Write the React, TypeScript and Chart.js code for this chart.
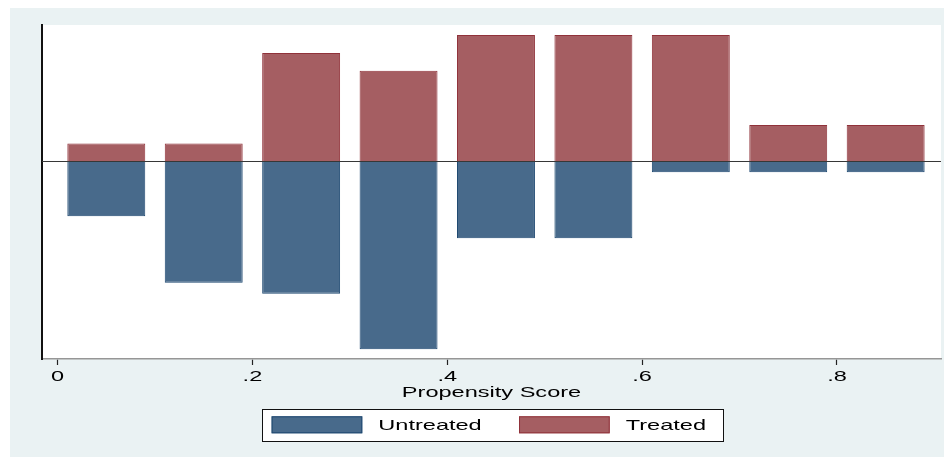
import React, { useEffect, useRef } from 'react';
import { Chart, registerables } from 'chart.js';

Chart.register(...registerables);

// ---- data ----
const binCenters = [0.05, 0.15, 0.25, 0.35, 0.45, 0.55, 0.65, 0.75, 0.85];
const untreated = [-0.08, -0.177, -0.193, -0.274, -0.112, -0.112, -0.016, -0.016, -0.016];
const treated = [0.026, 0.026, 0.158, 0.132, 0.184, 0.184, 0.184, 0.053, 0.053];
const xTickValues = [0, 0.2, 0.4, 0.6, 0.8];
const xTickLabels = ['0', '.2', '.4', '.6', '.8'];
const seriesNames = ['Untreated', 'Treated'];
const xTitle = 'Propensity Score';

// ---- styles ----
const BG = 'rgb(234,242,243)';
const BLUE_FILL = 'rgb(72,106,139)';
const BLUE_LINE = 'rgb(30,72,112)';
const RED_FILL = 'rgb(165,94,98)';
const RED_LINE = 'rgb(144,50,58)';
const FONT = '"Liberation Sans", Arial, sans-serif';
const SX = 1.57; // horizontal text stretch seen in the reference

const bgPlugin = {
  id: 'bgPlugin',
  beforeDraw(chart: any) {
    const { ctx, width, height, chartArea } = chart;
    ctx.save();
    ctx.fillStyle = BG;
    ctx.fillRect(0, 0, width, height);
    ctx.fillStyle = '#ffffff';
    ctx.fillRect(chartArea.left, chartArea.top, chartArea.right - chartArea.left, chartArea.bottom - chartArea.top);
    ctx.restore();
  },
};

const zeroLinePlugin = {
  id: 'zeroLinePlugin',
  afterDatasetsDraw(chart: any) {
    const { ctx, chartArea } = chart;
    const y = Math.round(chart.scales.y.getPixelForValue(0)) + 0.5;
    ctx.save();
    ctx.strokeStyle = 'rgb(55,55,55)';
    ctx.lineWidth = 1.2;
    ctx.beginPath();
    ctx.moveTo(chartArea.left, y);
    ctx.lineTo(chartArea.right, y);
    ctx.stroke();
    ctx.restore();
  },
};

const legendPlugin = {
  id: 'boxLegend',
  afterDraw(chart: any) {
    const { ctx, chartArea } = chart;
    const cx = (chartArea.left + chartArea.right) / 2 + 1.3;
    const top = chartArea.bottom + 50.3;
    const h = 32;
    const padL = 9.3, swW = 90.7, swH = 17, gapText = 16, gapItem = 37.3, padR = 17.3;
    ctx.save();
    ctx.font = `15px ${FONT}`;
    const items = chart.data.datasets.map((d: any) => ({
      text: d.label,
      fill: d.backgroundColor,
      line: d.borderColor,
      w: ctx.measureText(d.label).width,
    }));
    let total = padL + padR;
    items.forEach((it: any, i: number) => {
      total += swW + gapText + it.w + (i < items.length - 1 ? gapItem : 0);
    });
    const left = cx - total / 2;
    ctx.fillStyle = '#ffffff';
    ctx.fillRect(left, top, total, h);
    ctx.strokeStyle = '#111';
    ctx.lineWidth = 1;
    ctx.strokeRect(Math.round(left) + 0.5, Math.round(top) + 0.5, Math.round(total), h);
    let x = left + padL;
    const midY = top + h / 2;
    items.forEach((it: any) => {
      ctx.fillStyle = it.fill;
      ctx.fillRect(x, midY - swH / 2 - 0.5, swW, swH);
      ctx.strokeStyle = it.line;
      ctx.strokeRect(x + 0.5, midY - swH / 2, swW - 1, swH - 1);
      x += swW + gapText;
      ctx.fillStyle = '#000';
      ctx.textAlign = 'left';
      ctx.textBaseline = 'middle';
      ctx.fillText(it.text, x, midY + 1);
      x += it.w + gapItem;
    });
    ctx.restore();
  },
};

function stretchText(ctx: any) {
  if (ctx.__stretched) return;
  ctx.__stretched = true;
  const origFill = ctx.fillText.bind(ctx);
  const origMeasure = ctx.measureText.bind(ctx);
  ctx.fillText = (text: string, x: number, y: number, maxWidth?: number) => {
    ctx.save();
    ctx.translate(x, y);
    ctx.scale(SX, 1);
    if (maxWidth !== undefined) origFill(text, 0, 0, maxWidth / SX);
    else origFill(text, 0, 0);
    ctx.restore();
  };
  ctx.measureText = (text: string) => {
    const m = origMeasure(text);
    return {
      width: m.width * SX,
      actualBoundingBoxAscent: m.actualBoundingBoxAscent,
      actualBoundingBoxDescent: m.actualBoundingBoxDescent,
      actualBoundingBoxLeft: m.actualBoundingBoxLeft * SX,
      actualBoundingBoxRight: m.actualBoundingBoxRight * SX,
      fontBoundingBoxAscent: m.fontBoundingBoxAscent,
      fontBoundingBoxDescent: m.fontBoundingBoxDescent,
    };
  };
}

export default function App() {
  const ref = useRef<HTMLCanvasElement | null>(null);

  useEffect(() => {
    document.documentElement.style.overflow = 'hidden';
    document.body.style.overflow = 'hidden';
    const canvas = ref.current;
    if (!canvas) return;
    const ctx = canvas.getContext('2d');
    stretchText(ctx);

    const chart = new Chart(canvas, {
      type: 'bar',
      data: {
        datasets: [
          {
            label: seriesNames[0],
            data: binCenters.map((x, i) => ({ x, y: untreated[i] })),
            backgroundColor: BLUE_FILL,
            borderColor: BLUE_LINE,
            borderWidth: 1,
          },
          {
            label: seriesNames[1],
            data: binCenters.map((x, i) => ({ x, y: treated[i] })),
            backgroundColor: RED_FILL,
            borderColor: RED_LINE,
            borderWidth: 1,
          },
        ],
      },
      options: {
        animation: false,
        responsive: false,
        devicePixelRatio: 1,
        layout: { padding: { left: 32, top: 17, right: 11, bottom: 56 } },
        datasets: { bar: { categoryPercentage: 0.8, barPercentage: 1.0 } },
        plugins: {
          legend: { display: false },
          tooltip: { enabled: false },
        },
        font: { family: FONT },
        scales: {
          x: {
            type: 'linear',
            stacked: true,
            offset: false,
            min: -0.016,
            max: 0.9068,
            afterBuildTicks: (scale: any) => {
              scale.ticks = xTickValues.map((v) => ({ value: v }));
            },
            afterFit: (scale: any) => {
              scale.height = 42;
            },
            ticks: {
              color: '#000',
              font: { family: FONT, size: 15 },
              padding: 3,
              maxRotation: 0,
              autoSkip: false,
              callback: (_v: any, i: number) => xTickLabels[i],
            },
            grid: {
              display: true,
              offset: false,
              drawOnChartArea: false,
              drawTicks: true,
              tickLength: 6,
              tickColor: '#222',
              tickWidth: 1.2,
            },
            border: { display: true, color: 'rgb(150,150,150)', width: 1.6 },
            title: {
              display: true,
              text: xTitle,
              color: '#000',
              font: { family: FONT, size: 15, lineHeight: 1 },
              padding: { top: 0, bottom: 0.5 },
            },
          },
          y: {
            type: 'linear',
            stacked: true,
            min: -0.2882,
            max: 0.1987,
            afterFit: (scale: any) => {
              scale.width = 0;
            },
            ticks: { display: false },
            grid: { display: false, drawTicks: false },
            border: { display: true, color: '#111', width: 2 },
          },
        },
      } as any,
      plugins: [bgPlugin, zeroLinePlugin, legendPlugin],
    });

    return () => chart.destroy();
  }, []);

  return (
    <div style={{ marginLeft: 2 }}>
      <canvas ref={ref} width={942} height={449} style={{ display: 'block', width: 942, height: 449 }} />
    </div>
  );
}
